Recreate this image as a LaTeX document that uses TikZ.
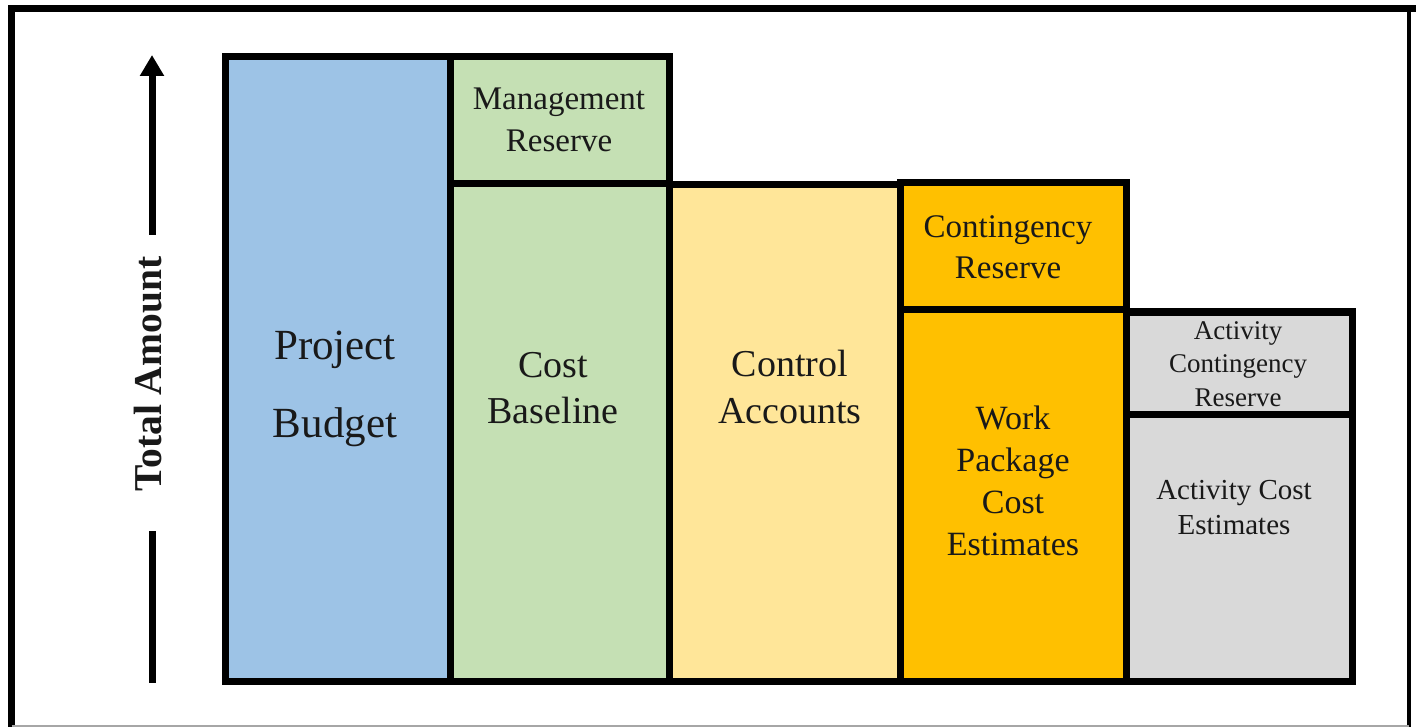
\documentclass[tikz,border=0pt]{standalone}
\usepackage{fontspec}
\setmainfont{Liberation Serif}
\usepackage{xcolor}
\definecolor{budgetblue}{RGB}{157,195,230}
\definecolor{baselinegreen}{RGB}{197,224,180}
\definecolor{accountyellow}{RGB}{255,230,153}
\definecolor{packageorange}{RGB}{255,192,0}
\definecolor{activitygray}{RGB}{217,217,217}
\usetikzlibrary{arrows.meta, positioning}

\tikzset{
  box/.style={draw=black, line width=7pt},
  lbl/.style={align=center, inner sep=0pt, text=black!90}
}

\begin{document}
\begin{tikzpicture}[x=1pt, y=-1pt]
  \useasboundingbox (0,0) rectangle (1416,727);

  % Outer frame
  \draw[line width=7pt] (11.5,727) -- (11.5,8.5) -- (1416,8.5);
  \draw[line width=4pt] (1409,8.5) -- (1409,727);
  \draw[black!35, line width=2pt] (11.5,725.5) -- (1409,725.5);

  % Project budget
  \draw[box, fill=budgetblue] (225,57) rectangle (450,681);
  \node[lbl, font=\fontsize{43}{78}\selectfont] (budget) at (335,389)
       {Project\\Budget};

  % Management reserve
  \draw[box, fill=baselinegreen] (450,57) rectangle (669,184);
  \node[lbl, font=\fontsize{33}{42}\selectfont] (mgmt) at (559,119.5)
       {Management\\Reserve};

  % Cost baseline
  \draw[box, fill=baselinegreen] (450,184) rectangle (669,681);
  \node[lbl, font=\fontsize{38}{46}\selectfont] (baseline) at (553,388)
       {Cost\\Baseline};

  % Control accounts
  \draw[box, fill=accountyellow] (669,185) rectangle (900,681);
  \node[lbl, font=\fontsize{38}{47}\selectfont] (accounts) at (790,387)
       {Control\\Accounts};

  % Contingency reserve
  \draw[box, fill=packageorange] (900,183) rectangle (1126,310);
  \node[lbl, font=\fontsize{33}{41}\selectfont] (contingency) at (1008,247.5)
       {Contingency\\Reserve};

  % Work package cost estimates
  \draw[box, fill=packageorange] (900,310) rectangle (1126,681);
  \node[lbl, font=\fontsize{34}{42}\selectfont] (package) at (1013,481)
       {Work\\Package\\Cost\\Estimates};

  % Activity contingency reserve
  \draw[box, fill=activitygray] (1126,312) rectangle (1352,414);
  \node[lbl, font=\fontsize{27}{33.5}\selectfont] (actreserve) at (1238,364)
       {Activity\\Contingency\\Reserve};

  % Activity cost estimates
  \draw[box, fill=activitygray] (1126,414) rectangle (1352,681);
  \node[lbl, font=\fontsize{29}{35}\selectfont] (actcost) at (1234,508)
       {Activity Cost\\Estimates};

  % Vertical axis with label
  \coordinate (axis top) at (152,55);
  \coordinate (axis bottom) at (152,683);
  \node[lbl, rotate=90, font=\fontsize{39.5}{44}\selectfont\bfseries] (total)
       at (148,374) {Total Amount};
  \draw[line width=7pt, -{Triangle[length=21pt, width=23pt]}]
       ([yshift=22pt]axis top |- total.east) -- (axis top);
  \draw[line width=7pt] ([yshift=-40pt]axis bottom |- total.west) -- (axis bottom);
\end{tikzpicture}
\end{document}
